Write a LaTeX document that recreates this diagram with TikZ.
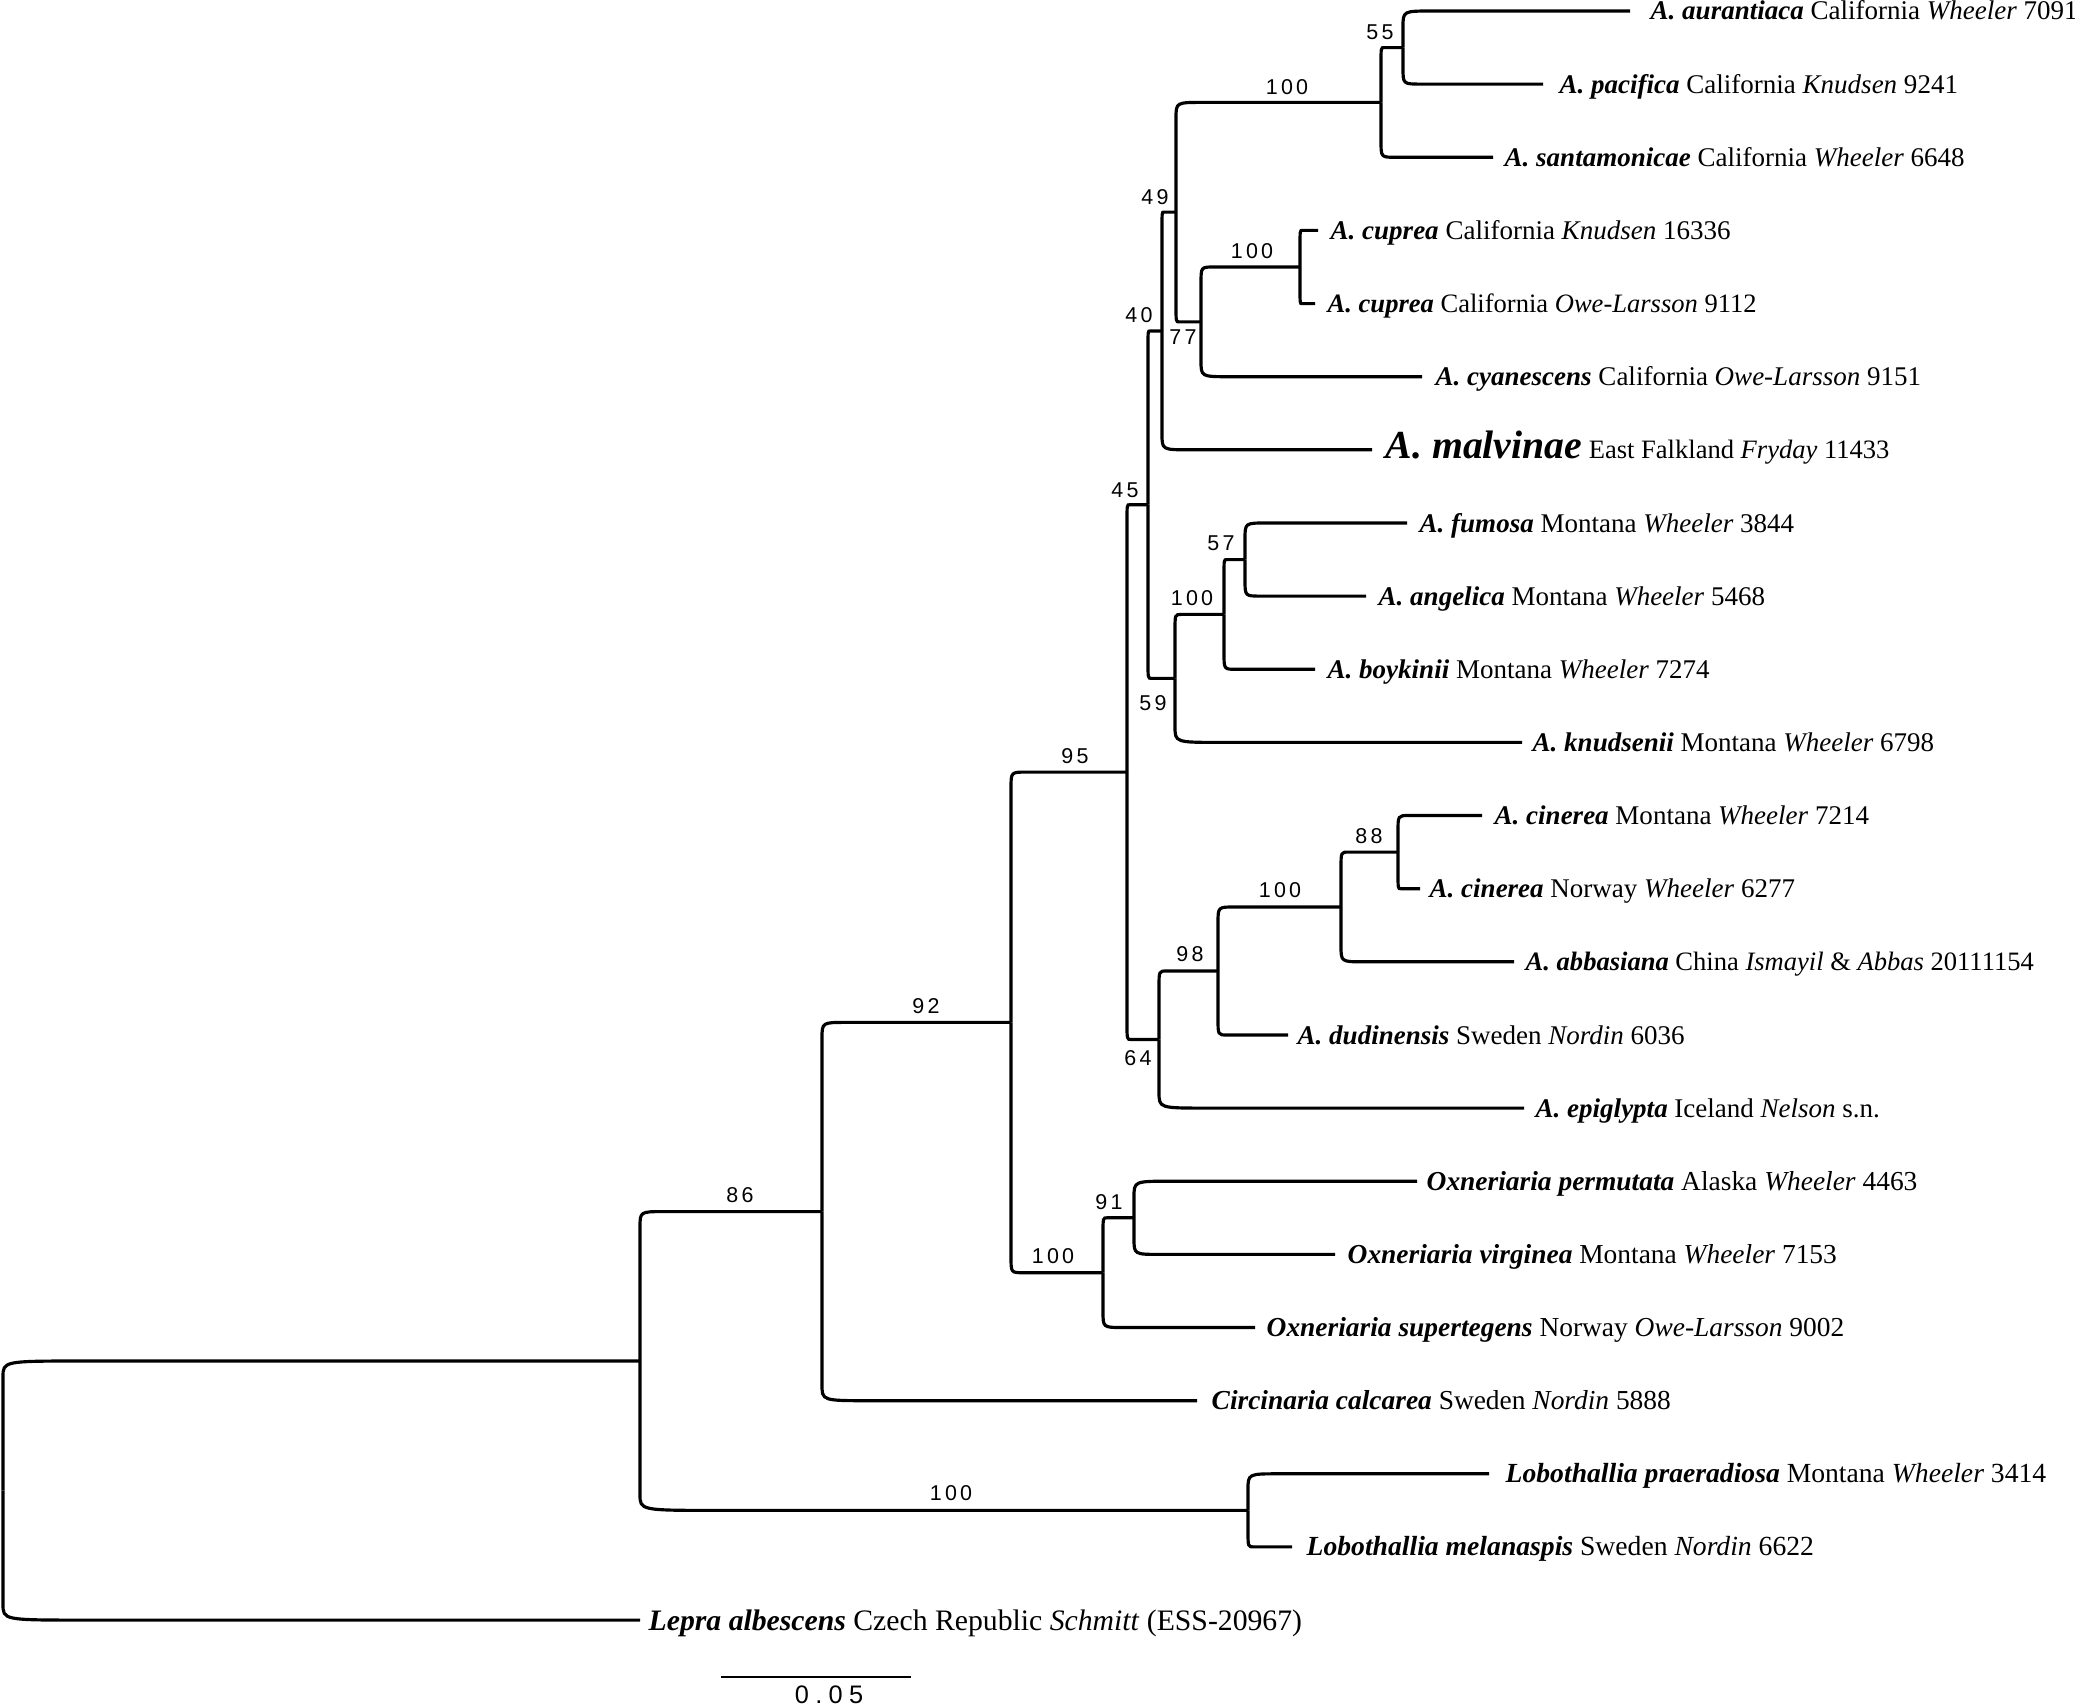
\documentclass[tikz,border=0pt]{standalone}
\usepackage{fontspec}
\setmainfont{Liberation Serif}
\newfontfamily\bsfont[LetterSpace=15]{Liberation Sans}
\newfontfamily\scfont[LetterSpace=25]{Liberation Sans}
\usetikzlibrary{calc}
\newcommand{\spn}[1]{\textbf{\textit{#1}}}
\newcommand{\lblfont}{\fontsize{7.68pt}{9pt}\selectfont}
\newcommand{\bigfont}{\fontsize{11.3pt}{13pt}\selectfont}
\begin{document}
\begin{tikzpicture}[x=0.01cm,y=-0.01cm,
  br/.style={line width=0.9pt, line cap=butt},
  bU/.style={to path={(\tikztostart) -- ($(\tikztostart|-\tikztotarget)+(0,16)$) .. controls (\tikztostart|-\tikztotarget) .. ($(\tikztostart|-\tikztotarget)!0.13!(\tikztotarget)$) -- (\tikztotarget)}},
  bD/.style={to path={(\tikztostart) -- ($(\tikztostart|-\tikztotarget)+(0,-16)$) .. controls (\tikztostart|-\tikztotarget) .. ($(\tikztostart|-\tikztotarget)!0.13!(\tikztotarget)$) -- (\tikztotarget)}},
  lab/.style={anchor=base west, inner sep=0pt, font=\lblfont},
  labA/.style={anchor=base west, inner sep=0pt, font=\fontsize{7.55pt}{9pt}\selectfont},
  labB/.style={anchor=base west, inner sep=0pt, font=\fontsize{7.8pt}{9pt}\selectfont},
  labC/.style={anchor=base west, inner sep=0pt, font=\fontsize{7.86pt}{9pt}\selectfont},
  labD/.style={anchor=base west, inner sep=0pt, font=\fontsize{8.45pt}{10pt}\selectfont},
  bs/.style={inner sep=0pt, font=\bsfont\fontsize{6.1pt}{7pt}\selectfont},
]
\useasboundingbox (0,0) rectangle (2075,1706);

% internal nodes
\coordinate (r)     at (3,1490.5);
\coordinate (n86)   at (640,1361);
\coordinate (n92)   at (822,1211.6);
\coordinate (nA)    at (1011,1022.4);
\coordinate (n95)   at (1127,772.1);
\coordinate (n45)   at (1148,504.7);
\coordinate (n40)   at (1162,331);
\coordinate (n49)   at (1176,212.1);
\coordinate (n100a) at (1381,102.4);
\coordinate (n55)   at (1403,47.6);
\coordinate (n77)   at (1201,321.9);
\coordinate (ncup)  at (1300,267);
\coordinate (n59)   at (1175,678.4);
\coordinate (n100f) at (1224,614.4);
\coordinate (n57)   at (1245,559.6);
\coordinate (n64)   at (1159,1039.5);
\coordinate (n98)   at (1218,971);
\coordinate (n100c) at (1341,907);
\coordinate (n88)   at (1398,852.1);
\coordinate (nOx)   at (1103,1272.7);
\coordinate (n91)   at (1134,1217.8);
\coordinate (nLob)  at (1248,1510.4);

% leaf tips
\coordinate (t0)  at (1630,11.0);
\coordinate (t1)  at (1543,84.1);
\coordinate (t2)  at (1493,157.3);
\coordinate (t3)  at (1318,230.4);
\coordinate (t4)  at (1315,303.6);
\coordinate (t5)  at (1422,376.7);
\coordinate (t6)  at (1372,449.8);
\coordinate (t7)  at (1407,523.0);
\coordinate (t8)  at (1366,596.1);
\coordinate (t9)  at (1315,669.3);
\coordinate (t10) at (1522,742.4);
\coordinate (t11) at (1482,815.5);
\coordinate (t12) at (1420,888.7);
\coordinate (t13) at (1514,961.8);
\coordinate (t14) at (1288,1035.0);
\coordinate (t15) at (1524,1108.1);
\coordinate (t16) at (1417,1181.2);
\coordinate (t17) at (1335,1254.4);
\coordinate (t18) at (1255,1327.5);
\coordinate (t19) at (1197,1400.7);
\coordinate (t20) at (1489,1473.8);
\coordinate (t21) at (1292,1546.9);
\coordinate (t22) at (640,1620.1);

% branches
\draw[br] (r) to[bU] (n86);    \draw[br] (r) to[bD] (t22);
\draw[br] (n86) to[bU] (n92);  \draw[br] (n86) to[bD] (nLob);
\draw[br] (n92) to[bU] (nA);   \draw[br] (n92) to[bD] (t19);
\draw[br] (nA) to[bU] (n95);   \draw[br] (nA) to[bD] (nOx);
\draw[br] (n95) to[bU] (n45);  \draw[br] (n95) to[bD] (n64);
\draw[br] (n45) to[bU] (n40);  \draw[br] (n45) to[bD] (n59);
\draw[br] (n40) to[bU] (n49);  \draw[br] (n40) to[bD] (t6);
\draw[br] (n49) to[bU] (n100a); \draw[br] (n49) to[bD] (n77);
\draw[br] (n100a) to[bU] (n55); \draw[br] (n100a) to[bD] (t2);
\draw[br] (n55) to[bU] (t0);   \draw[br] (n55) to[bD] (t1);
\draw[br] (n77) to[bU] (ncup); \draw[br] (n77) to[bD] (t5);
\draw[br] (ncup) to[bU] (t3);  \draw[br] (ncup) to[bD] (t4);
\draw[br] (n59) to[bU] (n100f); \draw[br] (n59) to[bD] (t10);
\draw[br] (n100f) to[bU] (n57); \draw[br] (n100f) to[bD] (t9);
\draw[br] (n57) to[bU] (t7);   \draw[br] (n57) to[bD] (t8);
\draw[br] (n64) to[bU] (n98);  \draw[br] (n64) to[bD] (t15);
\draw[br] (n98) to[bU] (n100c); \draw[br] (n98) to[bD] (t14);
\draw[br] (n100c) to[bU] (n88); \draw[br] (n100c) to[bD] (t13);
\draw[br] (n88) to[bU] (t11);  \draw[br] (n88) to[bD] (t12);
\draw[br] (nOx) to[bU] (n91);  \draw[br] (nOx) to[bD] (t18);
\draw[br] (n91) to[bU] (t16);  \draw[br] (n91) to[bD] (t17);
\draw[br] (nLob) to[bU] (t20); \draw[br] (nLob) to[bD] (t21);

% leaf labels
\node[lab] (l0)  at ($(t0)+(20,9)$)  {\spn{A. aurantiaca} California \textit{Wheeler} 7091};
\node[lab] (l1)  at ($(t1)+(16,9)$)  {\spn{A. pacifica} California \textit{Knudsen} 9241};
\node[lab] (l2)  at ($(t2)+(11,9)$)  {\spn{A. santamonicae} California \textit{Wheeler} 6648};
\node[lab] (l3)  at ($(t3)+(12,9)$)  {\spn{A. cuprea} California \textit{Knudsen} 16336};
\node[labA] (l4) at ($(t4)+(12,9)$)  {\spn{A. cuprea} California \textit{Owe-Larsson} 9112};
\node[lab] (l5)  at ($(t5)+(13,9)$)  {\spn{A. cyanescens} California \textit{Owe-Larsson} 9151};
\node[labA] (l6) at ($(t6)+(13,9)$)  {{\bigfont\spn{A. malvinae}} East Falkland \textit{Fryday} 11433};
\node[lab] (l7)  at ($(t7)+(12,9)$)  {\spn{A. fumosa} Montana \textit{Wheeler} 3844};
\node[lab] (l8)  at ($(t8)+(12,9)$)  {\spn{A. angelica} Montana \textit{Wheeler} 5468};
\node[lab] (l9)  at ($(t9)+(12,9)$)  {\spn{A. boykinii} Montana \textit{Wheeler} 7274};
\node[lab] (l10) at ($(t10)+(10,9)$) {\spn{A. knudsenii} Montana \textit{Wheeler} 6798};
\node[lab] (l11) at ($(t11)+(12,9)$) {\spn{A. cinerea} Montana \textit{Wheeler} 7214};
\node[lab] (l12) at ($(t12)+(9,9)$)  {\spn{A. cinerea} Norway \textit{Wheeler} 6277};
\node[labA] (l13) at ($(t13)+(11,9)$) {\spn{A. abbasiana} China \textit{Ismayil} \& \textit{Abbas} 20111154};
\node[lab] (l14) at ($(t14)+(9,9)$)  {\spn{A. dudinensis} Sweden \textit{Nordin} 6036};
\node[lab] (l15) at ($(t15)+(11,9)$) {\spn{A. epiglypta} Iceland \textit{Nelson} s.n.};
\node[labB] (l16) at ($(t16)+(9,9)$)  {\spn{Oxneriaria permutata} Alaska \textit{Wheeler} 4463};
\node[labB] (l17) at ($(t17)+(12,9)$) {\spn{Oxneriaria virginea} Montana \textit{Wheeler} 7153};
\node[labB] (l18) at ($(t18)+(11,9)$) {\spn{Oxneriaria supertegens} Norway \textit{Owe-Larsson} 9002};
\node[labB] (l19) at ($(t19)+(14,9)$) {\spn{Circinaria calcarea} Sweden \textit{Nordin} 5888};
\node[labC] (l20) at ($(t20)+(16,9)$) {\spn{Lobothallia praeradiosa} Montana \textit{Wheeler} 3414};
\node[labC] (l21) at ($(t21)+(14,9)$) {\spn{Lobothallia melanaspis} Sweden \textit{Nordin} 6622};
\node[labD] (l22) at ($(t22)+(8,10)$) {\spn{Lepra albescens} Czech Republic \textit{Schmitt} (ESS-20967)};

% bootstrap values
\node[bs] (b55)   at (1380,32)   {55};
\node[bs] (b100a) at (1287,87)   {100};
\node[bs] (b49)   at (1155,197)  {49};
\node[bs] (b100u) at (1252,251)  {100};
\node[bs] (b40)   at (1139,315)  {40};
\node[bs] (b77)   at (1183,337)  {77};
\node[bs] (b45)   at (1125,490)  {45};
\node[bs] (b57)   at (1221,543)  {57};
\node[bs] (b100f) at (1192,598)  {100};
\node[bs] (b59)   at (1153,703)  {59};
\node[bs] (b88)   at (1369,836)  {88};
\node[bs] (b100c) at (1280,890)  {100};
\node[bs] (b98)   at (1190,954)  {98};
\node[bs] (b64)   at (1138,1058) {64};
\node[bs] (b95)   at (1075,756)  {95};
\node[bs] (b91)   at (1109,1202) {91};
\node[bs] (b100o) at (1053,1256) {100};
\node[bs] (b92)   at (926,1006)  {92};
\node[bs] (b86)   at (740,1195)  {86};
\node[bs] (b100l) at (951,1493)  {100};

% scale bar
\coordinate (s1) at (721,1677);
\coordinate (s2) at (911,1677);
\draw[line width=0.5pt] (s1) -- (s2);
\node[inner sep=0pt, font=\scfont\fontsize{7.2pt}{8pt}\selectfont] (sc) at (829,1695) {0.05};
\end{tikzpicture}
\end{document}
